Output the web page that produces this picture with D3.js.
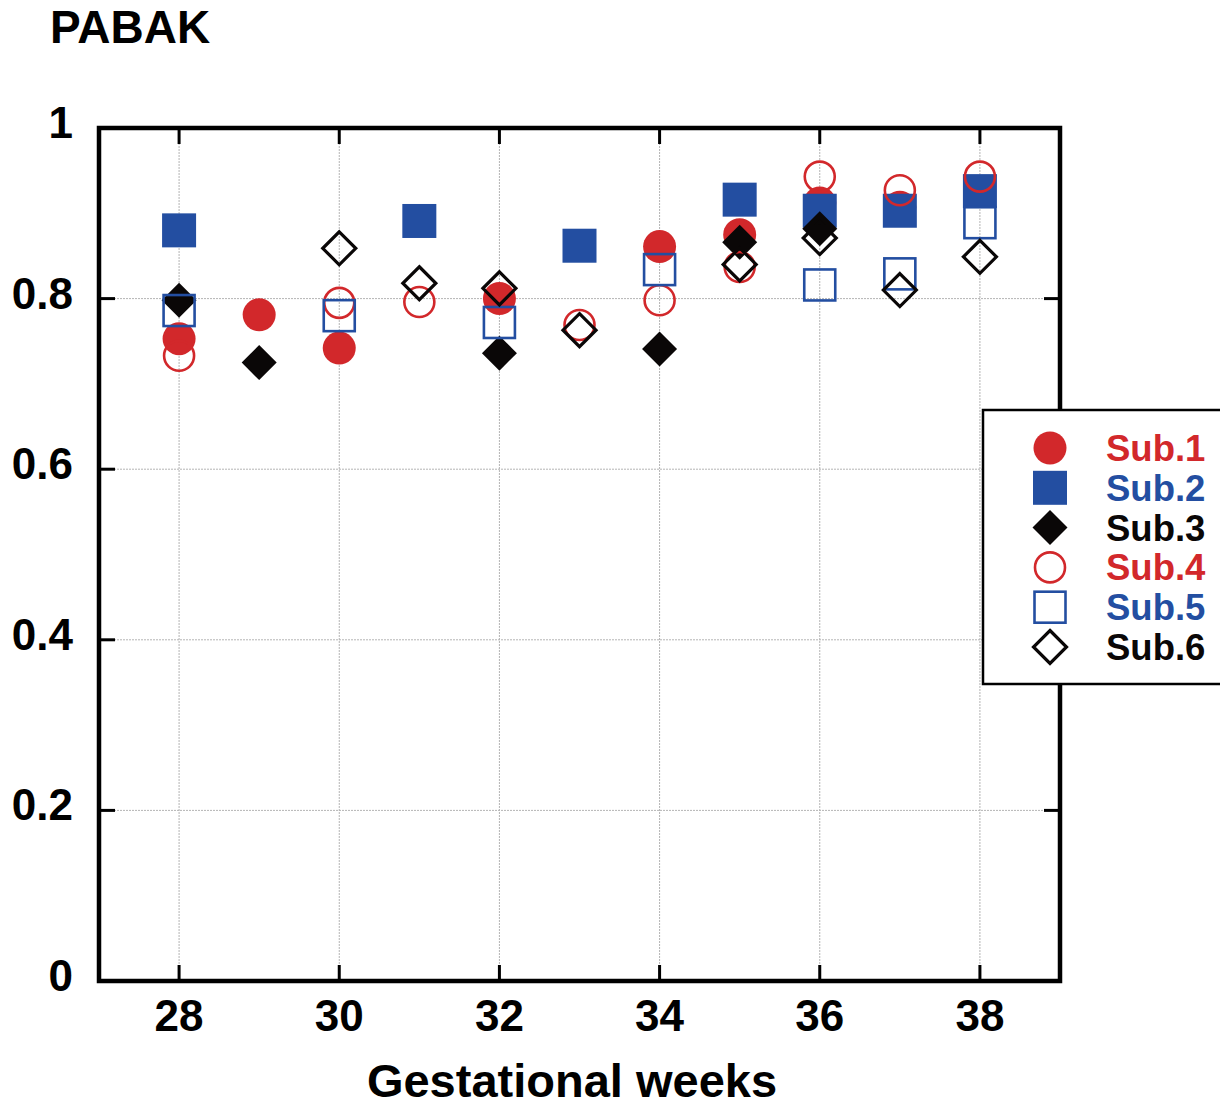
<html>
<head>
    <title>PABAK by gestational week</title>
    <script type="text/javascript" src="https://d3js.org/d3.v7.min.js"></script>
    <style>
        body {
            margin: 0;
            background: white;
            font-family: "Liberation Sans", Arial, Helvetica, sans-serif;
        }

        .grid line {
            stroke: #b4b4b4;
            stroke-width: 1px;
            stroke-dasharray: 2, 1;
        }

        .lbl {
            font-weight: bold;
            fill: black;
        }
    </style>
</head>
<body>
<div id="my_dataviz"></div>

<script>
    // data
    var subjects = ["Sub.1", "Sub.2", "Sub.3", "Sub.4", "Sub.5", "Sub.6"];

    var sub1_weeks = [28, 29, 30, 32, 34, 35, 36, 37];
    var sub1_vals = [0.753, 0.781, 0.742, 0.800, 0.861, 0.875, 0.912, 0.907];

    var sub2_weeks = [28, 31, 33, 35, 36, 37, 38];
    var sub2_vals = [0.880, 0.891, 0.862, 0.916, 0.903, 0.903, 0.926];

    var sub3_weeks = [28, 29, 32, 34, 35, 36];
    var sub3_vals = [0.798, 0.725, 0.736, 0.741, 0.866, 0.882];

    var sub4_weeks = [28, 30, 31, 33, 34, 35, 36, 37, 38];
    var sub4_vals = [0.733, 0.795, 0.796, 0.769, 0.798, 0.837, 0.943, 0.927, 0.943];

    var sub5_weeks = [28, 30, 32, 34, 36, 37, 38];
    var sub5_vals = [0.786, 0.780, 0.772, 0.834, 0.816, 0.829, 0.889];

    var sub6_weeks = [30, 31, 32, 33, 35, 36, 37, 38];
    var sub6_vals = [0.859, 0.818, 0.812, 0.763, 0.840, 0.871, 0.810, 0.849];

    var x_ticks = [28, 30, 32, 34, 36, 38];
    var y_ticks = [0, 0.2, 0.4, 0.6, 0.8, 1];

    var red = "#d2282b",
        blue = "#234ea1",
        black = "#0a0707";

    // marker style per subject
    var styles = [
        {shape: "circle", color: red, filled: true},
        {shape: "square", color: blue, filled: true},
        {shape: "diamond", color: black, filled: true},
        {shape: "circle", color: red, filled: false},
        {shape: "square", color: blue, filled: false},
        {shape: "diamond", color: black, filled: false}
    ];

    var series = [
        [sub1_weeks, sub1_vals],
        [sub2_weeks, sub2_vals],
        [sub3_weeks, sub3_vals],
        [sub4_weeks, sub4_vals],
        [sub5_weeks, sub5_vals],
        [sub6_weeks, sub6_vals]
    ];

    var width = 1220, height = 1110;
    var plot = {left: 99, right: 1060, top: 128, bottom: 981};

    var x = d3.scaleLinear().domain([27, 39]).range([plot.left, plot.right]);
    var y = d3.scaleLinear().domain([0, 1]).range([plot.bottom, plot.top]);

    var svg = d3.select("#my_dataviz")
        .append("svg")
        .attr("width", width)
        .attr("height", height);

    // grid
    var grid = svg.append("g").attr("class", "grid");
    grid.selectAll("line.gx")
        .data(x_ticks)
        .join("line")
        .attr("x1", d => x(d)).attr("x2", d => x(d))
        .attr("y1", plot.top).attr("y2", plot.bottom);
    grid.selectAll("line.gy")
        .data(y_ticks.filter(d => d > 0 && d < 1))
        .join("line")
        .attr("class", "gy")
        .attr("x1", plot.left).attr("x2", plot.right)
        .attr("y1", d => y(d)).attr("y2", d => y(d));

    // inward ticks on all four sides
    var tickLen = 16;
    var ticks = svg.append("g").attr("stroke", "black").attr("stroke-width", 3);
    x_ticks.forEach(function (t) {
        ticks.append("line").attr("x1", x(t)).attr("x2", x(t))
            .attr("y1", plot.bottom).attr("y2", plot.bottom - tickLen);
        ticks.append("line").attr("x1", x(t)).attr("x2", x(t))
            .attr("y1", plot.top).attr("y2", plot.top + tickLen);
    });
    y_ticks.filter(d => d > 0 && d < 1).forEach(function (t) {
        ticks.append("line").attr("x1", plot.left).attr("x2", plot.left + tickLen)
            .attr("y1", y(t)).attr("y2", y(t));
        ticks.append("line").attr("x1", plot.right).attr("x2", plot.right - tickLen)
            .attr("y1", y(t)).attr("y2", y(t));
    });

    // frame
    svg.append("rect")
        .attr("x", plot.left).attr("y", plot.top)
        .attr("width", plot.right - plot.left)
        .attr("height", plot.bottom - plot.top)
        .attr("fill", "none")
        .attr("stroke", "black")
        .attr("stroke-width", 4.5);

    // tick labels
    svg.append("g").selectAll("text")
        .data(x_ticks)
        .join("text")
        .attr("class", "lbl")
        .attr("x", d => x(d))
        .attr("y", 1031)
        .attr("text-anchor", "middle")
        .style("font-size", "44px")
        .text(d => d);

    svg.append("g").selectAll("text")
        .data(y_ticks)
        .join("text")
        .attr("class", "lbl")
        .attr("x", 73)
        .attr("y", d => y(d) + 10)
        .attr("text-anchor", "end")
        .style("font-size", "44px")
        .text(d => d3.format("")(d));

    // titles
    svg.append("text").attr("class", "lbl")
        .attr("x", 50).attr("y", 43)
        .style("font-size", "46px")
        .text("PABAK");

    svg.append("text").attr("class", "lbl")
        .attr("x", 572).attr("y", 1097)
        .attr("text-anchor", "middle")
        .style("font-size", "47px")
        .text("Gestational weeks");

    function drawMarker(g, st, cx, cy) {
        var fill = st.filled ? st.color : "none";
        var sw = st.filled ? 0 : (st.shape === "diamond" ? 3.2 : 2.6);
        if (st.shape === "circle") {
            g.append("circle")
                .attr("cx", cx).attr("cy", cy)
                .attr("r", st.filled ? 16.5 : 15)
                .attr("fill", fill).attr("stroke", st.color).attr("stroke-width", sw);
        } else if (st.shape === "square") {
            var s = st.filled ? 34 : 31;
            g.append("rect")
                .attr("x", cx - s / 2).attr("y", cy - s / 2)
                .attr("width", s).attr("height", s)
                .attr("fill", fill).attr("stroke", st.color).attr("stroke-width", sw);
        } else {
            var h = st.filled ? 17.5 : 16.5;
            g.append("path")
                .attr("d", "M" + cx + "," + (cy - h) + "L" + (cx + h) + "," + cy +
                    "L" + cx + "," + (cy + h) + "L" + (cx - h) + "," + cy + "Z")
                .attr("fill", fill).attr("stroke", st.color).attr("stroke-width", sw)
                .attr("stroke-linejoin", "miter");
        }
    }

    // points
    var pts = svg.append("g");
    series.forEach(function (s, i) {
        var weeks = s[0], vals = s[1];
        weeks.forEach(function (w, j) {
            drawMarker(pts, styles[i], x(w), y(vals[j]));
        });
    });

    // legend
    var leg = svg.append("g");
    leg.append("rect")
        .attr("x", 983).attr("y", 410)
        .attr("width", 260).attr("height", 274)
        .attr("fill", "white")
        .attr("stroke", "black")
        .attr("stroke-width", 2.5);

    subjects.forEach(function (name, i) {
        var ly = 448 + i * 39.8;
        drawMarker(leg, styles[i], 1050, ly);
        leg.append("text")
            .attr("class", "lbl")
            .attr("x", 1106)
            .attr("y", ly + 13)
            .style("font-size", "36.5px")
            .style("fill", styles[i].color)
            .text(name);
    });
</script>
</body>
</html>
